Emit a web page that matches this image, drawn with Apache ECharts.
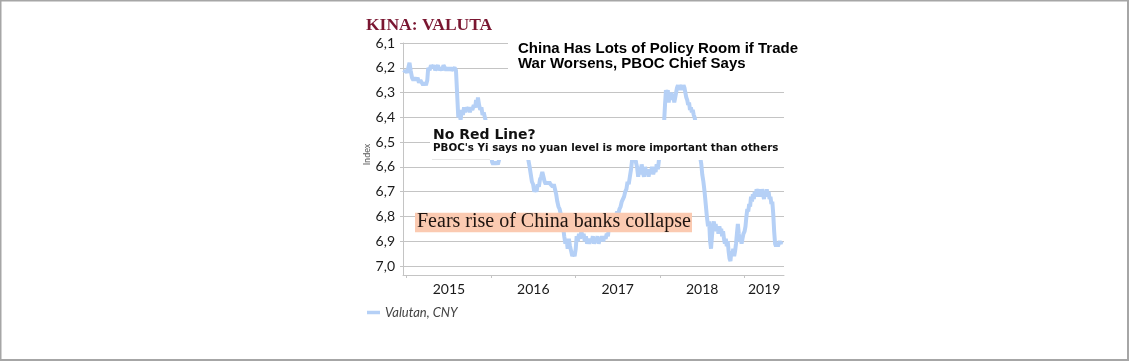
<!DOCTYPE html>
<html>
<head>
<meta charset="utf-8">
<script src="https://cdn.jsdelivr.net/npm/echarts@6/dist/echarts.min.js"></script>
<style>
html,body{margin:0;padding:0;background:#fff;}
#chart{width:1130px;height:362px;}
</style>
</head>
<body>
<div id="chart"></div>
<script>
// ---- DATA ----
const dates = [
"2014-12-20","2014-12-27","2015-01-03","2015-01-08","2015-01-13","2015-01-18","2015-01-24","2015-01-30","2015-02-05","2015-02-11",
"2015-02-17","2015-02-23","2015-03-01","2015-03-07","2015-03-13","2015-03-19","2015-03-25","2015-03-31","2015-04-04","2015-04-10",
"2015-04-16","2015-04-22","2015-04-28","2015-05-04","2015-05-10","2015-05-16","2015-05-22","2015-05-28","2015-06-03","2015-06-09",
"2015-06-15","2015-06-21","2015-06-27","2015-07-03","2015-07-09","2015-07-15","2015-07-21","2015-07-27","2015-08-02","2015-08-10",
"2015-08-12","2015-08-17","2015-08-22","2015-08-27","2015-09-01","2015-09-06","2015-09-11","2015-09-16","2015-09-21","2015-09-26",
"2015-10-01","2015-10-06","2015-10-12","2015-10-18","2015-10-24","2015-10-28","2015-11-01","2015-11-05","2015-11-10","2015-11-15",
"2015-11-20","2015-11-25","2015-11-30","2015-12-05","2015-12-10","2015-12-16","2015-12-24","2015-12-31","2016-01-05","2016-01-10",
"2016-01-15","2016-01-20","2016-01-25","2016-01-30","2016-02-05","2016-02-15","2016-03-01","2016-03-15","2016-04-01","2016-04-15",
"2016-05-01","2016-05-15","2016-06-01","2016-06-10","2016-06-16","2016-06-21","2016-06-26","2016-07-01","2016-07-06","2016-07-11",
"2016-07-16","2016-07-21","2016-07-26","2016-07-31","2016-08-05","2016-08-10","2016-08-15","2016-08-20","2016-08-25","2016-08-30",
"2016-09-04","2016-09-09","2016-09-14","2016-09-19","2016-09-24","2016-09-29","2016-10-04","2016-10-09","2016-10-14","2016-10-19",
"2016-10-24","2016-10-29","2016-11-03","2016-11-08","2016-11-13","2016-11-18","2016-11-23","2016-11-28","2016-12-03","2016-12-08",
"2016-12-13","2016-12-18","2016-12-23","2016-12-28","2017-01-02","2017-01-06","2017-01-11","2017-01-16","2017-01-21","2017-01-26",
"2017-01-31","2017-02-05","2017-02-10","2017-02-15","2017-02-20","2017-02-25","2017-03-02","2017-03-07","2017-03-12","2017-03-17",
"2017-03-22","2017-03-27","2017-04-01","2017-04-06","2017-04-11","2017-04-16","2017-04-21","2017-04-26","2017-05-01","2017-05-06",
"2017-05-11","2017-05-16","2017-05-21","2017-05-26","2017-05-31","2017-06-05","2017-06-10","2017-06-15","2017-06-20","2017-06-25",
"2017-06-30","2017-07-05","2017-07-10","2017-07-15","2017-07-20","2017-07-25","2017-07-30","2017-08-04","2017-08-09","2017-08-14",
"2017-08-19","2017-08-24","2017-08-29","2017-09-03","2017-09-08","2017-09-14","2017-09-19","2017-09-24","2017-09-29","2017-10-04",
"2017-10-09","2017-10-14","2017-10-19","2017-10-24","2017-10-29","2017-11-03","2017-11-08","2017-11-13","2017-11-18","2017-11-23",
"2017-11-28","2017-12-03","2017-12-08","2017-12-13","2017-12-18","2017-12-23","2017-12-28","2018-01-05","2018-01-12","2018-01-19",
"2018-01-23","2018-01-27","2018-01-31","2018-02-04","2018-02-08","2018-02-12","2018-02-16","2018-02-20","2018-02-24","2018-02-28",
"2018-03-04","2018-03-08","2018-03-12","2018-03-16","2018-03-20","2018-03-24","2018-03-28","2018-04-01","2018-04-05","2018-04-09",
"2018-04-13","2018-04-17","2018-04-21","2018-04-25","2018-04-29","2018-05-03","2018-05-07","2018-05-11","2018-05-15","2018-05-19",
"2018-05-23","2018-05-27","2018-05-31","2018-06-04","2018-06-10","2018-06-17","2018-06-24","2018-06-29","2018-07-03","2018-07-08",
"2018-07-13","2018-07-18","2018-07-23","2018-07-28","2018-08-02","2018-08-06","2018-08-10","2018-08-14","2018-08-18","2018-08-22",
"2018-08-26","2018-08-30","2018-09-03","2018-09-07","2018-09-11","2018-09-15","2018-09-19","2018-09-23","2018-09-27","2018-10-01",
"2018-10-05","2018-10-09","2018-10-13","2018-10-17","2018-10-21","2018-10-25","2018-10-29","2018-11-02","2018-11-06","2018-11-10",
"2018-11-14","2018-11-18","2018-11-22","2018-11-26","2018-11-30","2018-12-04","2018-12-08","2018-12-12","2018-12-16","2018-12-20",
"2018-12-24","2018-12-28","2019-01-02","2019-01-06","2019-01-10","2019-01-14","2019-01-18","2019-01-22","2019-01-26","2019-01-30",
"2019-02-03","2019-02-07","2019-02-11","2019-02-15","2019-02-19","2019-02-23","2019-02-27","2019-03-03","2019-03-07","2019-03-11",
"2019-03-15","2019-03-19","2019-03-23","2019-03-27","2019-03-31","2019-04-04","2019-04-08","2019-04-12","2019-04-16","2019-04-20",
"2019-04-24","2019-04-28","2019-05-02","2019-05-06","2019-05-10","2019-05-14","2019-05-18","2019-05-22","2019-05-26","2019-05-30",
"2019-06-03","2019-06-07","2019-06-11"
];
const valutan = [
6.22,6.21,6.22,6.20,6.18,6.21,6.24,6.25,6.24,6.25,
6.24,6.26,6.25,6.26,6.27,6.26,6.27,6.25,6.20,6.21,
6.19,6.20,6.19,6.21,6.20,6.19,6.21,6.20,6.21,6.19,
6.20,6.21,6.20,6.21,6.20,6.21,6.21,6.20,6.21,6.21,
6.40,6.38,6.41,6.37,6.39,6.36,6.38,6.36,6.37,6.36,
6.38,6.36,6.37,6.35,6.36,6.33,6.36,6.32,6.35,6.37,
6.36,6.39,6.38,6.40,6.42,6.45,6.47,6.52,6.58,6.59,
6.58,6.59,6.58,6.59,6.57,6.55,6.52,6.50,6.47,6.49,
6.49,6.54,6.55,6.57,6.60,6.63,6.66,6.67,6.70,6.69,
6.70,6.67,6.68,6.65,6.64,6.62,6.64,6.66,6.67,6.66,
6.67,6.66,6.67,6.67,6.68,6.67,6.69,6.71,6.74,6.76,
6.77,6.79,6.80,6.84,6.88,6.91,6.89,6.93,6.89,6.92,
6.94,6.96,6.95,6.96,6.93,6.88,6.90,6.87,6.89,6.86,
6.88,6.87,6.90,6.88,6.91,6.89,6.91,6.89,6.90,6.88,
6.91,6.89,6.90,6.88,6.91,6.89,6.90,6.88,6.90,6.88,
6.89,6.87,6.88,6.84,6.80,6.81,6.80,6.82,6.79,6.80,
6.78,6.79,6.77,6.76,6.74,6.73,6.72,6.70,6.69,6.66,
6.67,6.64,6.61,6.57,6.52,6.55,6.58,6.60,6.64,6.60,
6.63,6.59,6.62,6.64,6.60,6.63,6.61,6.64,6.61,6.62,
6.60,6.63,6.61,6.62,6.59,6.61,6.57,6.50,6.45,6.42,
6.35,6.29,6.31,6.29,6.34,6.31,6.33,6.30,6.33,6.31,
6.34,6.32,6.30,6.28,6.27,6.29,6.27,6.28,6.27,6.29,
6.27,6.28,6.30,6.32,6.33,6.35,6.34,6.37,6.36,6.38,
6.37,6.39,6.40,6.42,6.45,6.50,6.56,6.59,6.63,6.66,
6.70,6.75,6.80,6.84,6.82,6.90,6.93,6.88,6.84,6.82,
6.85,6.83,6.86,6.84,6.87,6.84,6.86,6.85,6.88,6.86,
6.89,6.91,6.89,6.92,6.90,6.94,6.97,6.98,6.94,6.96,
6.93,6.96,6.94,6.91,6.87,6.83,6.87,6.90,6.88,6.91,
6.89,6.87,6.86,6.84,6.80,6.77,6.78,6.75,6.76,6.72,
6.74,6.71,6.73,6.70,6.72,6.69,6.71,6.69,6.72,6.70,
6.72,6.69,6.71,6.73,6.70,6.72,6.69,6.72,6.70,6.73,
6.72,6.75,6.74,6.79,6.86,6.91,6.92,6.91,6.92,6.91,
6.90,6.91,6.90
];
const yearTicks = [2015, 2016, 2017, 2018, 2019];
const yearLabels = ["2015", "2016", "2017", "2018", "2019"];
const seriesName = "Valutan, CNY";
const titleText = "KINA: VALUTA";
const yAxisName = "Index";
const headline1 = "China Has Lots of Policy Room if Trade";
const headline2 = "War Worsens, PBOC Chief Says";
const insetTitle = "No Red Line?";
const insetSub = "PBOC's Yi says no yuan level is more important than others";
const banner = "Fears rise of China banks collapse";

// ---- helpers ----
function toYear(s) {
  const d = Date.parse(s + "T00:00:00Z");
  const y = Number(s.slice(0, 4));
  const a = Date.UTC(y, 0, 1), b = Date.UTC(y + 1, 0, 1);
  return y + (d - a) / (b - a);
}
const xMin = 2014.956, xMax = 2019.47;
const seriesData = dates.map((d, i) => [toYear(d), valutan[i]]);
const labelPos = yearTicks.map(y => (Math.max(y, xMin) + Math.min(y + 1, xMax)) / 2);

const axisGray = '#c4c4c4';
const lineBlue = '#b5d0f6';
const chart = echarts.init(document.getElementById('chart'), null, {renderer: 'canvas'});
chart.setOption({
  animation: false,
  backgroundColor: '#ffffff',
  title: {
    text: titleText, left: 366, top: 16, padding: 0,
    textStyle: {fontFamily: 'Liberation Serif', fontWeight: 'bold', fontSize: 17.5, color: '#7a1631'}
  },
  grid: {left: 403, right: 346, top: 43, bottom: 96, containLabel: false},
  legend: {
    left: 367, top: 306, padding: 0, icon: 'rect', itemWidth: 13, itemHeight: 3.5,
    textStyle: {fontFamily: 'Lato', fontStyle: 'italic', fontSize: 13, color: '#444'},
    data: [seriesName]
  },
  xAxis: {
    type: 'value', min: xMin, max: xMax, offset: 9,
    axisLine: {show: true, lineStyle: {color: axisGray, width: 1}},
    axisTick: {show: true, customValues: yearTicks, length: 3, lineStyle: {color: axisGray}},
    axisLabel: {
      customValues: labelPos, margin: 7,
      fontFamily: 'Lato', fontSize: 14, color: '#1a1a1a',
      formatter: v => yearLabels[labelPos.findIndex(p => Math.abs(p - v) < 1e-6)] || ''
    },
    splitLine: {show: false}
  },
  yAxis: {
    type: 'value', inverse: true, min: 6.1, max: 7.0, interval: 0.1,
    name: yAxisName, nameLocation: 'middle', nameGap: 24, nameRotate: 90,
    nameTextStyle: {fontFamily: 'Lato', fontSize: 9, color: '#555'},
    axisLine: {show: true, lineStyle: {color: axisGray, width: 1}},
    axisTick: {show: true, length: 3, lineStyle: {color: axisGray}},
    axisLabel: {
      margin: 8, fontFamily: 'Lato', fontSize: 14, color: '#1a1a1a',
      formatter: v => v.toFixed(1).replace('.', ',')
    },
    splitLine: {show: true, lineStyle: {color: axisGray, width: 1}}
  },
  series: [{
    name: seriesName, type: 'line', data: seriesData,
    showSymbol: false, symbol: 'none',
    lineStyle: {color: lineBlue, width: 4},
    itemStyle: {color: lineBlue},
    z: 2
  }],
  graphic: [
    // outer frame
    {type: 'rect', shape: {x: 0.5, y: 0.5, width: 1127.5, height: 359.5}, style: {fill: null, stroke: '#a6a6a6', lineWidth: 2}, z: 100},
    // extension of the y-axis line down to the x-axis
    {type: 'line', shape: {x1: 403.5, y1: 266, x2: 403.5, y2: 275}, style: {stroke: axisGray, lineWidth: 1}, z: 50},
    // headline box
    {type: 'rect', shape: {x: 508, y: 36, width: 300, height: 42}, style: {fill: '#ffffff'}, z: 60},
    {type: 'text', x: 518, y: 49, style: {text: headline1, fontFamily: 'Liberation Sans', fontWeight: 'bold', fontSize: 15, fill: '#000', verticalAlign: 'middle'}, z: 61},
    {type: 'text', x: 518, y: 63.5, style: {text: headline2, fontFamily: 'Liberation Sans', fontWeight: 'bold', fontSize: 15, fill: '#000', verticalAlign: 'middle'}, z: 61},
    // inset box
    {type: 'rect', shape: {x: 430, y: 120, width: 360, height: 40}, style: {fill: '#ffffff'}, z: 60},
    {type: 'line', shape: {x1: 432, y1: 159.5, x2: 490, y2: 159.5}, style: {stroke: '#e6e6e6', lineWidth: 1}, z: 61},
    {type: 'text', x: 433, y: 135, style: {text: insetTitle, fontFamily: 'DejaVu Sans', fontWeight: 'bold', fontSize: 14, fill: '#111', verticalAlign: 'middle'}, z: 61},
    {type: 'text', x: 433, y: 148, style: {text: insetSub, fontFamily: 'DejaVu Sans', fontWeight: 'bold', fontSize: 10.3, fill: '#111', verticalAlign: 'middle'}, z: 61},
    // banner
    {type: 'rect', shape: {x: 415, y: 212.7, width: 277, height: 19.6}, style: {fill: '#fbcab1'}, z: 60},
    {type: 'text', x: 417, y: 221.5, style: {text: banner, fontFamily: 'Liberation Serif', fontSize: 20, fill: '#1e1410', verticalAlign: 'middle'}, z: 61}
  ]
});
</script>
</body>
</html>
